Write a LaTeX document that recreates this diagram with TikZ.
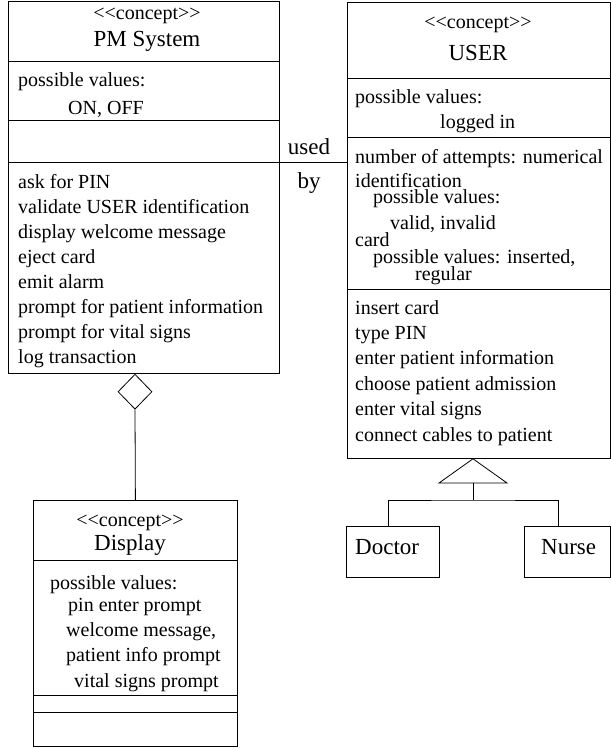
\documentclass[tikz,border=0pt]{standalone}
\usepackage{fontspec}
\setmainfont[Ligatures=NoCommon]{Liberation Serif}
\usetikzlibrary{shapes.geometric}
\newcommand{\stereo}{<{}<concept>{}>}
\begin{document}
\begin{tikzpicture}[x=1pt,y=-1pt,
  box/.style={draw, line width=0.8pt, inner sep=0pt, anchor=north west, fill=white},
  sep/.style={line width=0.8pt},
  conn/.style={line width=0.8pt},
  txt/.style={anchor=base west, inner sep=0pt, font=\fontsize{20}{24}\selectfont},
  ctxt/.style={anchor=base, inner sep=0pt, font=\fontsize{20}{24}\selectfont},
  ttl/.style={anchor=base, inner sep=0pt, font=\fontsize{23}{27}\selectfont},
  lbl/.style={anchor=base west, inner sep=0pt, font=\fontsize{23}{27}\selectfont}]
\useasboundingbox (0,0) rectangle (611,748);

% ---------- PM System ----------
\node[box, minimum width=271pt, minimum height=372pt] (pm) at (8,1) {};
\draw[sep] (pm.west |- 0,61) -- (pm.east |- 0,61);
\draw[sep] (pm.west |- 0,120) -- (pm.east |- 0,120);
\draw[sep] (pm.west |- 0,162) -- (pm.east |- 0,162);
\node[ctxt] (pmst) at (147,19) {\stereo};
\node[ttl] (pmname) at (147,46) {PM System};
\node[txt] (pmpv) at (18,86) {possible values:};
\node[txt] (pmon) at (68,114) {ON, OFF};
\node[txt] (pmo1) at (18,188) {ask for PIN};
\node[txt] (pmo2) at (18,213) {validate USER identification};
\node[txt] (pmo3) at (18,238) {display welcome message};
\node[txt] (pmo4) at (18,263) {eject card};
\node[txt] (pmo5) at (18,288) {emit alarm};
\node[txt] (pmo6) at (18,313) {prompt for patient information};
\node[txt] (pmo7) at (18,338) {prompt for vital signs};
\node[txt] (pmo8) at (18,363) {log transaction};

% ---------- USER ----------
\node[box, minimum width=263pt, minimum height=456pt] (user) at (347,2) {};
\draw[sep] (user.west |- 0,78) -- (user.east |- 0,78);
\draw[sep] (user.west |- 0,137) -- (user.east |- 0,137);
\draw[sep] (user.west |- 0,289) -- (user.east |- 0,289);
\node[ctxt] (ust) at (478,28) {\stereo};
\node[ttl] (uname) at (478,60) {USER};
\node[txt] (upv) at (355,103) {possible values:};
\node[txt] (ulog) at (440,128) {logged in};
\node[txt] (ua1) at (355,163) {number of attempts: numerical};
\node[txt] (ua2) at (355,187) {identification};
\node[txt] (ua3) at (373,203) {possible values:};
\node[txt] (ua4) at (390,229) {valid, invalid};
\node[txt] (ua5) at (355,246) {card};
\node[txt] (ua6) at (373,263) {possible values: inserted,};
\node[txt] (ua7) at (415,280) {regular};
\node[txt] (uo1) at (355,314) {insert card};
\node[txt] (uo2) at (355,339) {type PIN};
\node[txt] (uo3) at (355,364) {enter patient information};
\node[txt] (uo4) at (355,390) {choose patient admission};
\node[txt] (uo5) at (355,415) {enter vital signs};
\node[txt] (uo6) at (355,441) {connect cables to patient};

% ---------- used by ----------
\coordinate (usedy) at (0,162);
\draw[conn] (pm.east |- usedy) -- (user.west |- usedy);
\node[ttl] (used) at (309,154) {used};
\node[ttl] (by) at (309,188) {by};

% ---------- Display ----------
\node[box, minimum width=204pt, minimum height=246pt] (disp) at (33,500) {};
\draw[sep] (disp.west |- 0,560) -- (disp.east |- 0,560);
\draw[sep] (disp.west |- 0,695) -- (disp.east |- 0,695);
\draw[sep] (disp.west |- 0,712) -- (disp.east |- 0,712);
\node[ctxt] (dst) at (130,526) {\stereo};
\node[ttl] (dname) at (130,550) {Display};
\node[txt] (dpv) at (50,589) {possible values:};
\node[txt] (dv1) at (68,611) {pin enter prompt};
\node[txt] (dv2) at (66,636) {welcome message,};
\node[txt] (dv3) at (66,661) {patient info prompt};
\node[txt] (dv4) at (74,687) {vital signs prompt};

% ---------- aggregation ----------
\node[diamond, draw, line width=0.8pt, fill=white, inner sep=0pt,
      minimum width=34pt, minimum height=35pt, anchor=north] (agg) at (pm.south -| 135,0) {};
\draw[conn] (agg.south) -- (disp.north);

% ---------- Doctor / Nurse ----------
\node[box, minimum width=93pt, minimum height=51pt] (doc) at (346,526) {};
\node[box, minimum width=86pt, minimum height=51pt] (nurse) at (524,526) {};
\node[lbl] (doct) at (355,554) {Doctor};
\node[lbl] (nurt) at (541,554) {Nurse};

% ---------- generalization ----------
\coordinate (apex) at (user.south -| 473,0);
\coordinate (tribase) at (473,483);
\coordinate (junc) at (473,500);
\draw[conn, fill=white, line join=miter] (apex) -- (507,483) -- (439,483) -- cycle;
\draw[conn] (tribase) -- (junc);
\draw[conn] (doc.north -| 388,0) |- (junc) -| (nurse.north -| 558,0);
\end{tikzpicture}
\end{document}
